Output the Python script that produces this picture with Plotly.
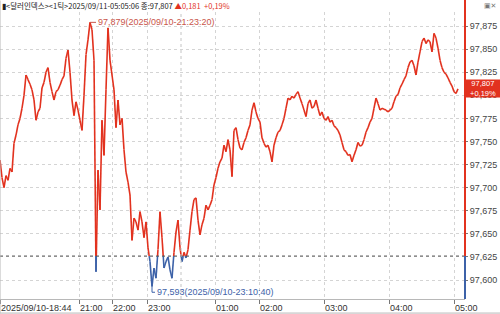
import plotly.graph_objects as go

# ---------------- data ----------------
prices = [
    97.730, 97.711, 97.700, 97.713, 97.708, 97.721, 97.717, 97.748, 97.757, 97.768,
    97.775, 97.786, 97.800, 97.822, 97.817, 97.812, 97.806, 97.795, 97.773, 97.782,
    97.786, 97.808, 97.814, 97.825, 97.830, 97.814, 97.804, 97.795, 97.804, 97.806,
    97.811, 97.817, 97.821, 97.840, 97.849, 97.825, 97.795, 97.778, 97.793, 97.784,
    97.773, 97.762, 97.800, 97.844, 97.860, 97.879, 97.871, 97.838, 97.609, 97.719,
    97.676, 97.773, 97.735, 97.806, 97.873, 97.838, 97.822, 97.806, 97.765, 97.795,
    97.768, 97.775, 97.741, 97.717, 97.706, 97.692, 97.643, 97.667, 97.663, 97.654,
    97.674, 97.663, 97.646, 97.663, 97.635, 97.620, 97.593, 97.613, 97.602, 97.633,
    97.674, 97.646, 97.613, 97.620, 97.625, 97.611, 97.602, 97.630, 97.652, 97.665,
    97.635, 97.620, 97.630, 97.624, 97.633, 97.654, 97.674, 97.687, 97.689, 97.665,
    97.649, 97.660, 97.667, 97.681, 97.676, 97.681, 97.687, 97.703, 97.711, 97.721,
    97.728, 97.732, 97.746, 97.739, 97.752, 97.741, 97.712, 97.762, 97.765, 97.752,
    97.743, 97.741, 97.749, 97.754, 97.762, 97.768, 97.784, 97.792, 97.782, 97.775,
    97.771, 97.754, 97.748, 97.744, 97.746, 97.739, 97.728, 97.746, 97.754, 97.760,
    97.762, 97.768, 97.775, 97.786, 97.797, 97.795, 97.799, 97.797, 97.801, 97.804,
    97.797, 97.791, 97.784, 97.777, 97.791, 97.795, 97.786, 97.788, 97.795, 97.786,
    97.778, 97.782, 97.775, 97.773, 97.777, 97.771, 97.773, 97.767, 97.765, 97.762,
    97.757, 97.749, 97.741, 97.739, 97.735, 97.736, 97.728, 97.735, 97.741, 97.749,
    97.745, 97.746, 97.752, 97.760, 97.765, 97.771, 97.775, 97.786, 97.797, 97.791,
    97.784, 97.786, 97.785, 97.784, 97.782, 97.784, 97.786, 97.793, 97.799, 97.801,
    97.808, 97.812, 97.817, 97.821, 97.830, 97.836, 97.838, 97.832, 97.822, 97.836,
    97.847, 97.858, 97.862, 97.856, 97.860, 97.858, 97.847, 97.867, 97.862, 97.851,
    97.838, 97.830, 97.825, 97.823, 97.819, 97.814, 97.810, 97.804, 97.802, 97.807,
]
base_price = 97.626          # previous close (97.807 - 0.181)
last_price = 97.807
max_price, max_label = 97.879, "97,879(2025/09/10-21:23:20)"
min_price, min_label = 97.593, "97,593(2025/09/10-23:10:40)"

time_tick_index = [0, 39.5, 56, 73.5, 107.5, 129.5, 162, 194.5, 227]
time_tick_text = ["2025/09/10-18:44", "21:00", "22:00", "23:00", "01:00",
                  "02:00", "03:00", "04:00", "05:00"]
midnight_index = 90.5

price_ticks = [97.600, 97.625, 97.650, 97.675, 97.700, 97.725, 97.750,
               97.775, 97.800, 97.825, 97.850, 97.875]
price_tick_text = ["97,600", "97,625", "97,650", "97,675", "97,700", "97,725",
                   "97,750", "97,775", "97,800", "97,825", "97,850", "97,875"]

header_main = "▮<달러인덱스><1틱>2025/09/11-05:05:06 종:97,807 "
header_change = "▲0,181  +0,19%"
last_box_text = "97,807<br>+0,19%"

# ---------------- styles ----------------
RED = "#e2321f"
BLUE = "#3d62a8"
GRID = "#d4d4d4"
Y_RANGE = [97.5795, 97.8902]
X_RANGE = [0, 232.5]
FONT = "Liberation Sans Narrow, Liberation Sans, Arial"

xs = list(range(len(prices)))

# split the line into above / below the base price
rx, ry, bx, by = [], [], [], []
for i in range(len(prices) - 1):
    x0, y0, x1, y1 = xs[i], prices[i], xs[i + 1], prices[i + 1]
    pts = [(x0, y0)]
    if (y0 - base_price) * (y1 - base_price) < 0:
        t = (base_price - y0) / (y1 - y0)
        pts.append((x0 + t * (x1 - x0), base_price))
    pts.append((x1, y1))
    for a, b in zip(pts[:-1], pts[1:]):
        if (a[1] + b[1]) / 2 >= base_price:
            rx += [a[0], b[0], None]; ry += [a[1], b[1], None]
        else:
            bx += [a[0], b[0], None]; by += [a[1], b[1], None]

fig = go.Figure()
fig.add_trace(go.Scatter(x=rx, y=ry, mode="lines", line=dict(color=RED, width=1.6),
                         hoverinfo="skip", showlegend=False))
fig.add_trace(go.Scatter(x=bx, y=by, mode="lines", line=dict(color=BLUE, width=1.6),
                         hoverinfo="skip", showlegend=False))

imax = prices.index(max_price)
imin = prices.index(min_price)

shapes = [
    # base dotted line
    dict(type="line", xref="paper", x0=0, x1=1, yref="y", y0=base_price, y1=base_price,
         line=dict(color="#555555", width=1, dash="dot")),
    # midnight separator
    dict(type="line", xref="x", x0=midnight_index, x1=midnight_index, yref="paper", y0=0, y1=1,
         line=dict(color="#c4c4c4", width=1, dash="dot")),
    # coloured price axis
    dict(type="line", xref="paper", x0=1, x1=1, yref="y", y0=base_price, y1=Y_RANGE[1],
         line=dict(color=RED, width=2)),
    dict(type="line", xref="paper", x0=1, x1=1, yref="paper", y0=1, y1=1.045,
         line=dict(color=RED, width=2)),
    dict(type="line", xref="paper", x0=1, x1=1, yref="y", y0=Y_RANGE[0], y1=base_price,
         line=dict(color=BLUE, width=2)),
    # left border
    dict(type="line", xref="paper", x0=0, x1=0, yref="paper", y0=-0.05, y1=1.04,
         line=dict(color="#b8b8b8", width=1)),
    # bottom border
    dict(type="line", xref="paper", x0=0, x1=1.1, yref="paper", y0=-0.049, y1=-0.049,
         line=dict(color="#b8b8b8", width=1)),
    # max connector
    dict(type="line", xref="x", x0=imax, x1=imax + 3, yref="y", y0=max_price, y1=max_price,
         line=dict(color="#c9554a", width=1)),
    # min connector
    dict(type="line", xref="x", x0=imin, x1=imin, yref="y", y0=min_price, y1=min_price - 0.0062,
         line=dict(color=BLUE, width=1)),
    dict(type="line", xref="x", x0=imin, x1=imin + 1.5, yref="y", y0=min_price - 0.0062,
         y1=min_price - 0.0062, line=dict(color=BLUE, width=1)),
]

annotations = [
    dict(x=imax + 3, y=max_price, xref="x", yref="y", text=max_label, showarrow=False,
         xanchor="left", yanchor="middle", font=dict(family=FONT, size=9, color="#c9554a")),
    dict(x=imin + 1.5, y=min_price - 0.0062, xref="x", yref="y", text=min_label, showarrow=False,
         xanchor="left", yanchor="middle", font=dict(family=FONT, size=9, color=BLUE)),
    dict(x=1, y=last_price, xref="paper", yref="y", text=last_box_text, showarrow=False,
         xanchor="left", yanchor="middle", bgcolor=RED, width=34, height=17, borderpad=0,
         align="center", xshift=0,
         font=dict(family=FONT, size=7.5, color="white")),
    dict(x=0, y=1, xref="paper", yref="paper", xanchor="left", yanchor="bottom",
         showarrow=False, yshift=-1,
         text=header_main + f"<span style='color:{RED}'>{header_change}</span>",
         font=dict(family="Noto Sans CJK KR, " + FONT, size=7.5, color="#222222")),
    dict(x=1.07, y=1, xref="paper", yref="paper", xanchor="right", yanchor="bottom",
         showarrow=False, text="▣✕", font=dict(family="DejaVu Sans", size=7, color="#777777")),
]

fig.update_layout(
    width=500, height=314,
    margin=dict(l=0, r=35, t=12, b=15, pad=0),
    paper_bgcolor="white", plot_bgcolor="white",
    shapes=shapes, annotations=annotations,
    xaxis=dict(range=X_RANGE, tickmode="array", tickvals=time_tick_index, ticktext=time_tick_text,
               showgrid=True, gridcolor=GRID, griddash="dot", gridwidth=1,
               zeroline=False, showline=True, linecolor="#b8b8b8", linewidth=1,
               ticks="outside", ticklen=4, tickcolor="#777777",
               ticklabelposition="outside right",
               tickfont=dict(family=FONT, size=9, color="#333333")),
    yaxis=dict(range=Y_RANGE, side="right", tickmode="array", tickvals=price_ticks,
               ticktext=price_tick_text, showgrid=True, gridcolor=GRID, griddash="dot",
               zeroline=False, showline=False, ticks="outside", ticklen=2, tickcolor="#777777",
               tickfont=dict(family=FONT, size=9, color="#444444")),
)

fig.write_html("out.html")
